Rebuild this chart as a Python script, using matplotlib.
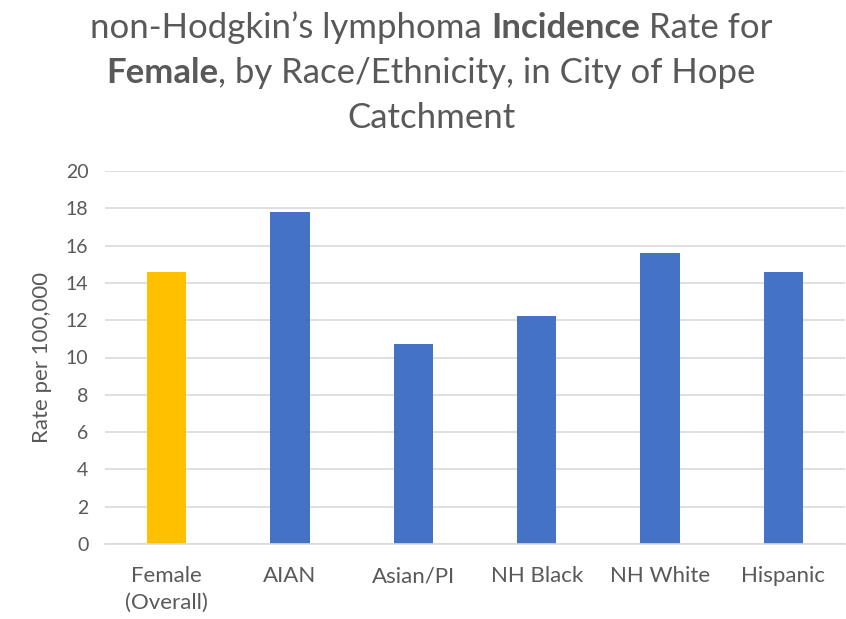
import matplotlib
matplotlib.use("Agg")
import matplotlib.pyplot as plt

categories = ["Female\n(Overall)", "AIAN", "Asian/PI", "NH Black", "NH White", "Hispanic"]
rates = [14.6, 17.8, 10.7, 12.2, 15.6, 14.6]
bar_colors = ["#FFC000", "#4472C4", "#4472C4", "#4472C4", "#4472C4", "#4472C4"]
yticks = [0, 2, 4, 6, 8, 10, 12, 14, 16, 18, 20]

plt.rcParams['font.family'] = ['Lato', 'DejaVu Sans']
W, H = 846, 619
fig = plt.figure(figsize=(W / 100, H / 100), dpi=100)
ax = fig.add_axes([105 / W, 1 - 544 / H, (845 - 105) / W, (544 - 171) / H])

x = list(range(len(categories)))
ax.bar(x, rates, width=0.32, color=bar_colors, zorder=3)
ax.set_xlim(-0.5, len(categories) - 0.5)
ax.set_ylim(0, 20)
ax.set_yticks(yticks)
ax.set_xticks(x)
ax.set_xticklabels(categories, fontsize=16, color="#595959", linespacing=1.4)
ax.tick_params(axis='both', length=0, labelcolor="#595959")
ax.tick_params(axis='y', labelsize=14, pad=12)
ax.tick_params(axis='x', pad=16)
ax.grid(axis='y', color="#d9d9d9", linewidth=1.2, zorder=0)
for s in ["top", "right", "left"]:
    ax.spines[s].set_visible(False)
ax.spines["bottom"].set_color("#d9d9d9")
ax.spines["bottom"].set_linewidth(1.2)
ax.spines["bottom"].set_zorder(4)
ax.set_ylabel("Rate per 100,000", fontsize=16, color="#595959", labelpad=10)

# Title with mixed weights
title_lines = [
    [("non-Hodgkin’s lymphoma", "normal"), (" ", "normal"), ("Incidence", "bold"), (" ", "normal"), ("Rate for", "normal")],
    [("Female", "bold"), (", by Race/Ethnicity, in City of Hope", "normal")],
    [("Catchment", "normal")],
]
title_y = [28, 73, 118]
center_x = 431
fs = 25
renderer = fig.canvas.get_renderer()

def width_of(s, weight):
    if s.strip() == "":
        t1 = fig.text(0, 0, "a a", fontsize=fs, fontweight=weight)
        t2 = fig.text(0, 0, "aa", fontsize=fs, fontweight=weight)
        w = t1.get_window_extent(renderer).width - t2.get_window_extent(renderer).width
        t1.remove(); t2.remove()
        return w
    t = fig.text(0, 0, s, fontsize=fs, fontweight=weight)
    w = t.get_window_extent(renderer).width
    t.remove()
    return w

for line, yc in zip(title_lines, title_y):
    widths = [width_of(s, wgt) for s, wgt in line]
    total = sum(widths)
    xpos = center_x - total / 2
    for (s, wgt), w in zip(line, widths):
        if s.strip():
            fig.text(xpos / W, 1 - yc / H, s, fontsize=fs, fontweight=wgt,
                     color="#595959", ha="left", va="center")
        xpos += w

fig.savefig("out.png", dpi=100)
